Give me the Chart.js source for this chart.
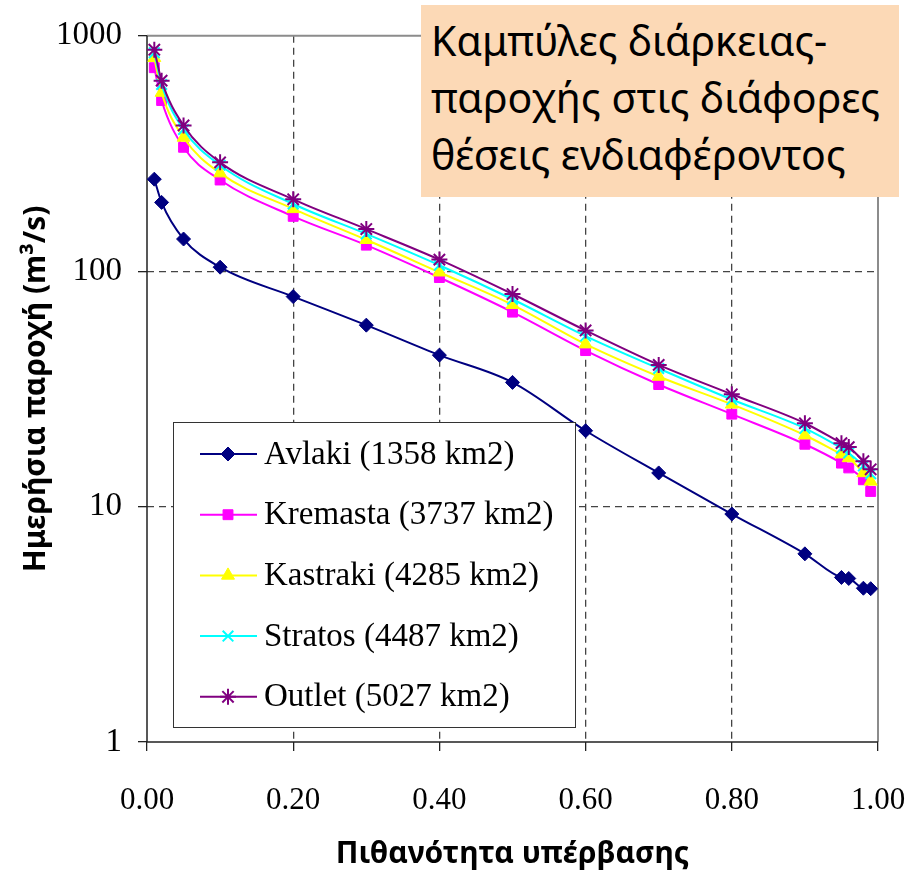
<!DOCTYPE html>
<html>
<head>
<meta charset="utf-8">
<script src="https://cdn.jsdelivr.net/npm/chart.js@4.4.0/dist/chart.umd.min.js"></script>
<style>
  body { margin: 0; background: #fff; }
  #wrap { position: relative; width: 924px; height: 872px; }
  #note {
    position: absolute; left: 421px; top: 5px; width: 478px; height: 192px;
    background: #fcd9b6; box-sizing: border-box; padding: 7px 0 0 10px;
    font-family: 'Noto Sans', sans-serif; font-size: 41px; line-height: 57px; color: #000;
    white-space: nowrap;
  }
</style>
</head>
<body>
<div id="wrap">
  <canvas id="myChart" width="924" height="872"></canvas>
  <div id="note">Καμπύλες διάρκειας-<br>παροχής στις διάφορες<br>θέσεις ενδιαφέροντος</div>
</div>
<script>
// exceedance probability
const probs = [0.01, 0.02, 0.05, 0.1, 0.2, 0.3, 0.4, 0.5, 0.6, 0.7, 0.8, 0.9, 0.95, 0.96, 0.98, 0.99];

// daily discharge (m3/s)
const avlaki   = [246, 196, 137, 104, 78, 59, 44, 33.7, 21, 13.9, 9.3, 6.3, 5.0, 4.95, 4.5, 4.48];
const kremasta = [732, 531, 336, 244, 171, 129, 94, 67, 46, 33, 24.7, 18.4, 15.3, 14.6, 13.0, 11.6];
const kastraki = [807, 574, 370, 261, 184, 136, 99, 72, 49, 35.7, 27.2, 20.1, 16.7, 16.1, 13.9, 12.8];
const stratos  = [848, 621, 400, 282, 193, 144, 106, 76, 53, 38.6, 28.5, 21.5, 17.7, 16.9, 14.9, 13.8];
const outlet   = [873, 645, 416, 290, 202, 151, 112, 80, 56, 40, 30, 22.6, 18.6, 17.9, 15.6, 14.4];

const seriesNames = ['Avlaki (1358 km2)', 'Kremasta (3737 km2)', 'Kastraki (4285 km2)', 'Stratos (4487 km2)', 'Outlet (5027 km2)'];
const yTicks = [1, 10, 100, 1000];

const colors = ['#000080', '#ff00ff', '#ffff00', '#00ffff', '#800080'];
const markers = ['rectRot', 'rect', 'triangle', 'crossRot', 'star'];
const sizes = [7, 7, 7.5, 7.5, 8];

function toPoints(values) {
  return probs.map((p, i) => ({ x: p, y: values[i] }));
}

const allSeries = [avlaki, kremasta, kastraki, stratos, outlet];

const datasets = allSeries.map((vals, i) => ({
  label: seriesNames[i],
  data: toPoints(vals),
  borderColor: colors[i],
  backgroundColor: colors[i],
  pointBackgroundColor: colors[i],
  pointBorderColor: colors[i],
  pointStyle: markers[i],
  pointRadius: sizes[i],
  pointBorderWidth: (markers[i] === 'crossRot' || markers[i] === 'star') ? 2 : 1,
  borderWidth: 2,
  cubicInterpolationMode: 'monotone',
  order: allSeries.length - i // later series on top
}));

// plot frame: gray top/right, dark axes left/bottom
const framePlugin = {
  id: 'frame',
  beforeDatasetsDraw(chart) {
    const { ctx, chartArea: a } = chart;
    ctx.save();
    ctx.lineWidth = 2;
    ctx.strokeStyle = '#8c8c8c';
    ctx.beginPath();
    ctx.moveTo(a.left, a.top);
    ctx.lineTo(a.right, a.top);
    ctx.lineTo(a.right, a.bottom);
    ctx.stroke();
    ctx.lineWidth = 1.5;
    ctx.strokeStyle = '#222';
    ctx.beginPath();
    ctx.moveTo(a.left, a.top);
    ctx.lineTo(a.left, a.bottom);
    ctx.lineTo(a.right, a.bottom);
    ctx.stroke();
    ctx.restore();
  }
};

// legend box inside the plot
const legendBox = {
  id: 'legendBox',
  afterDraw(chart) {
    const { ctx } = chart;
    const left = 173, top = 422, right = 575, bottom = 727;
    ctx.save();
    ctx.fillStyle = '#fff';
    ctx.fillRect(left, top, right - left, bottom - top);
    ctx.strokeStyle = '#333';
    ctx.lineWidth = 1;
    ctx.strokeRect(left + 0.5, top + 0.5, right - left, bottom - top);
    const rowH = 60.7;
    chart.data.datasets.forEach((ds, i) => {
      const y = 454 + i * rowH;
      ctx.strokeStyle = ds.borderColor;
      ctx.lineWidth = 2;
      ctx.beginPath();
      ctx.moveTo(200, y);
      ctx.lineTo(257, y);
      ctx.stroke();
      ctx.fillStyle = ds.backgroundColor;
      ctx.lineWidth = ds.pointBorderWidth;
      Chart.helpers.drawPoint(ctx, {
        pointStyle: ds.pointStyle, radius: ds.pointRadius, rotation: 0, borderWidth: ds.pointBorderWidth
      }, 228, y);
      ctx.fillStyle = '#000';
      ctx.font = '33px "Liberation Serif"';
      ctx.textBaseline = 'middle';
      ctx.fillText(ds.label, 264, y + 1);
    });
    ctx.restore();
  }
};

const ctx = document.getElementById('myChart').getContext('2d');

const myChart = new Chart(ctx, {
  type: 'line',
  data: { datasets: datasets },
  options: {
    responsive: false,
    animation: false,
    layout: { padding: { left: 0, right: 46, top: 33, bottom: 0 } },
    plugins: {
      legend: { display: false },
      tooltip: { enabled: false }
    },
    scales: {
      x: {
        type: 'linear',
        min: 0,
        max: 1,
        afterFit(scale) {
          scale.height = 130;
          // tick padding should not eat into the plot width
          scale.paddingLeft = 0;
          scale.paddingRight = 0;
        },
        ticks: {
          stepSize: 0.2,
          padding: 31,
          color: '#000',
          font: { family: 'Liberation Serif', size: 31 },
          callback: v => v.toFixed(2)
        },
        grid: {
          color: c => (c.tick && (c.tick.value === 0 || c.tick.value === 1)) ? 'rgba(0,0,0,0)' : '#444',
          lineWidth: 1.3,
          drawTicks: true,
          tickLength: 9,
          tickColor: '#222',
          tickWidth: 1.3,
          tickBorderDash: []
        },
        border: { display: false, dash: [7, 5] },
        title: {
          display: true,
          text: 'Πιθανότητα υπέρβασης',
          color: '#000',
          font: { family: 'Noto Sans', size: 30, weight: 'bold' },
          padding: { top: 0, bottom: 0 }
        }
      },
      y: {
        type: 'logarithmic',
        min: 1,
        max: 1000,
        afterFit(scale) { scale.width = 147; },
        afterBuildTicks(scale) { scale.ticks = yTicks.map(v => ({ value: v })); },
        ticks: {
          padding: 16,
          color: '#000',
          font: { family: 'Liberation Serif', size: 33 },
          callback: v => String(v)
        },
        grid: {
          color: c => (c.tick && (c.tick.value === 1 || c.tick.value === 1000)) ? 'rgba(0,0,0,0)' : '#444',
          lineWidth: 1.3,
          drawTicks: true,
          tickLength: 9,
          tickColor: '#222',
          tickWidth: 1.3,
          tickBorderDash: []
        },
        border: { display: false, dash: [7, 5] },
        title: {
          display: true,
          text: 'Ημερήσια παροχή (m³/s)',
          color: '#000',
          font: { family: 'Noto Sans', size: 30, weight: 'bold' },
          padding: { top: 18, bottom: 0 }
        }
      }
    }
  },
  plugins: [framePlugin, legendBox]
});
</script>
</body>
</html>
